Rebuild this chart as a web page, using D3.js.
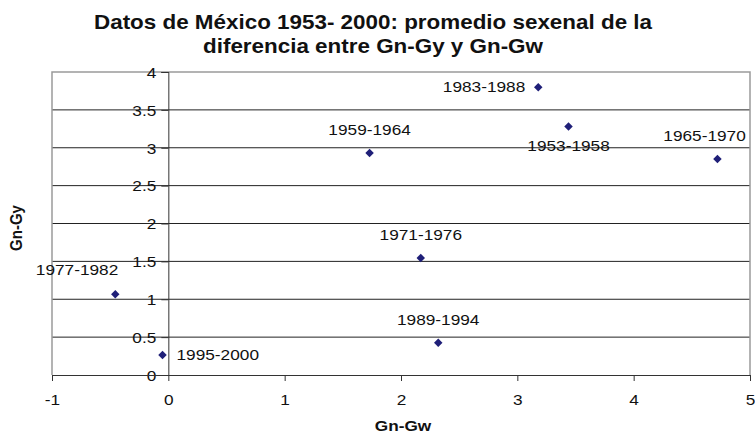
<!DOCTYPE html>
<html>
<head>
<meta charset="UTF-8">
<script src="https://cdn.jsdelivr.net/npm/d3@7"></script>
<style>
  body { margin: 0; background: #fff; }
  text { font-family: "Liberation Sans", Arial, sans-serif; fill: #111; }
</style>
</head>
<body>
<svg width="755" height="435"></svg>
<script>
// periods (sexenios) and their averages
var periods = ["1953-1958", "1959-1964", "1965-1970", "1971-1976",
               "1977-1982", "1983-1988", "1989-1994", "1995-2000"];
var gnGw = [3.44, 1.73, 4.72, 2.17, -0.456, 3.18, 2.32, -0.05];
var gnGy = [3.28, 2.93, 2.85, 1.545, 1.065, 3.80, 0.426, 0.264];
// where each label sits relative to its point
var labelSide = ["below", "above", "above", "above", "aboveLeft", "left", "above", "right"];

var xTicks = [-1, 0, 1, 2, 3, 4, 5];
var yTicks = [0, 0.5, 1, 1.5, 2, 2.5, 3, 3.5, 4];

var titleLines = ["Datos de México 1953- 2000: promedio sexenal de la",
                  "diferencia entre Gn-Gy y Gn-Gw"];

var svg = d3.select("svg");
var SX = 1.15; // the original picture is a bit wider than tall

var x = d3.scaleLinear().domain([-1, 5]).range([52, 750]);
var y = d3.scaleLinear().domain([0, 4]).range([375, 72]);

// plain hyphen for negatives, like the original
function fmt(d) { return String(d); }

// put a text at (px,py) stretched horizontally
function txt(g, px, py, s, anchor) {
    return g.append("text")
        .attr("transform", "translate(" + px + "," + py + ") scale(" + SX + ",1)")
        .attr("text-anchor", anchor || "start")
        .text(s);
}

// gridlines
svg.append("g").selectAll("line")
    .data(yTicks.filter(function(d) { return d > 0 && d < 4; }))
    .enter().append("line")
    .attr("x1", x(-1)).attr("x2", x(5))
    .attr("y1", function(d) { return y(d); })
    .attr("y2", function(d) { return y(d); })
    .attr("stroke", "#222").attr("stroke-width", 1);

// plot frame (grey)
svg.append("path")
    .attr("d", "M" + x(-1) + "," + y(0) + "V" + y(4) + "H" + x(5) + "V" + y(0))
    .attr("fill", "none").attr("stroke", "#9a9a9a").attr("stroke-width", 1.5);

// y axis crossing at x = 0
var yAxis = d3.axisLeft(y).tickValues(yTicks).tickSize(7).tickFormat(fmt);
var gy = svg.append("g").attr("transform", "translate(" + x(0) + ",0)").call(yAxis);
gy.select(".domain").attr("stroke", "#333");
gy.selectAll(".tick line").attr("stroke", "#333");
gy.selectAll(".tick text").remove();
gy.selectAll(".tick").each(function(d) {
    d3.select(this).append("text")
        .attr("transform", "translate(-12,0) scale(" + SX + ",1)")
        .attr("text-anchor", "end")
        .attr("dy", "0.35em")
        .style("font-size", "15px")
        .text(fmt(d));
});

// x axis at y = 0
var xAxis = d3.axisBottom(x).tickValues(xTicks).tickSize(6).tickFormat(fmt);
var gx = svg.append("g").attr("transform", "translate(0," + y(0) + ")").call(xAxis);
gx.select(".domain").attr("stroke", "#333");
gx.selectAll(".tick line").attr("stroke", "#333");
gx.selectAll(".tick text").remove();
gx.selectAll(".tick").each(function(d) {
    d3.select(this).append("text")
        .attr("transform", "translate(0,30) scale(" + SX + ",1)")
        .attr("text-anchor", "middle")
        .style("font-size", "15px")
        .text(fmt(d));
});

// points
var pts = periods.map(function(p, i) {
    return { name: p, gx: gnGw[i], gy: gnGy[i], side: labelSide[i] };
});

var diamond = d3.symbol().type(d3.symbolSquare).size(36);
svg.append("g").selectAll("path")
    .data(pts).enter().append("path")
    .attr("d", diamond)
    .attr("transform", function(d) {
        return "translate(" + x(d.gx) + "," + y(d.gy) + ") rotate(45)";
    })
    .attr("fill", "#1f1f78");

// point labels
var lab = svg.append("g").style("font-size", "15px");
pts.forEach(function(d) {
    var px = x(d.gx), py = y(d.gy);
    if (d.side == "left") {
        txt(lab, px - 13, py + 5, d.name, "end");
    } else if (d.side == "right") {
        txt(lab, px + 14, py + 5, d.name, "start");
    } else if (d.side == "below") {
        txt(lab, px, py + 24, d.name, "middle");
    } else if (d.side == "aboveLeft") {
        txt(lab, px + 3, py - 19, d.name, "end");
    } else {
        // above, kept inside the frame on the right
        var w = d.name.length * 15 * 0.56 * SX;
        var cx = Math.min(px, x(5) - 2 - w / 2);
        txt(lab, cx, py - 18, d.name, "middle");
    }
});

// title
svg.append("g").style("font-size", "19.5px").style("font-weight", "bold")
    .selectAll("text").data(titleLines).enter().append("text")
    .attr("transform", function(d, i) {
        return "translate(373," + (29 + i * 24) + ") scale(" + SX + ",1)";
    })
    .attr("text-anchor", "middle")
    .text(function(d) { return d; });

// axis titles
svg.append("text")
    .attr("transform", "translate(403,431) scale(" + SX + ",1)")
    .attr("text-anchor", "middle")
    .style("font-size", "15px").style("font-weight", "bold")
    .text("Gn-Gw");

svg.append("text")
    .attr("transform", "translate(22,228) scale(" + SX + ",1) rotate(-90)")
    .attr("text-anchor", "middle")
    .style("font-size", "15px").style("font-weight", "bold")
    .text("Gn-Gy");
</script>
</body>
</html>
